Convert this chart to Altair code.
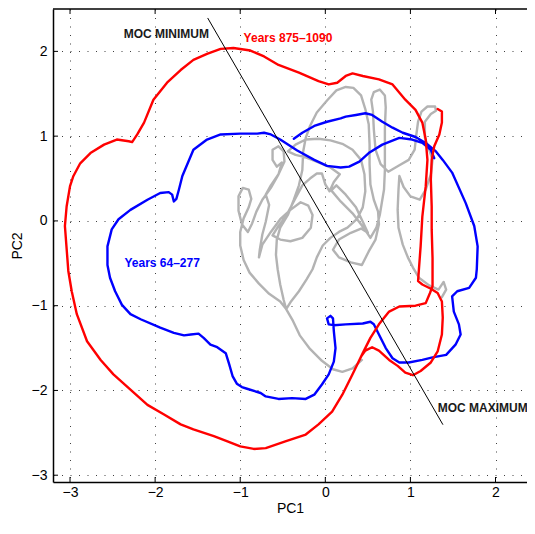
import altair as alt
import pandas as pd

# ---------------- data ----------------
red_pc1 = [1.32, 1.37, 1.37, 1.34, 1.28, 1.25, 1.24, 1.25, 1.25, 1.26,
           1.26, 1.23, 1.18, 1.06, 0.87, 0.75, 0.63, 0.53, 0.44, 0.32,
           0.20, 0.08, -0.08, -0.23, -0.47, -0.70, -0.84, -1.00, -1.15, -1.31,
           -1.55, -1.70, -1.90, -2.09, -2.29, -2.49, -2.64, -2.80, -2.92, -2.98,
           -3.02, -3.06, -3.04, -3.00, -2.96, -2.88, -2.76, -2.60, -2.45, -2.31,
           -2.27, -2.21, -2.13, -2.02, -1.86, -1.70, -1.55, -1.39, -1.23, -1.08,
           -0.88, -0.72, -0.55, -0.31, -0.08, 0.04, 0.14, 0.24, 0.32, 0.44,
           0.63, 0.79, 0.94, 1.06, 1.14, 1.18, 1.20, 1.18, 1.14, 1.12,
           1.10, 1.09, 1.14, 1.24, 1.32, 1.37, 1.38, 1.37, 1.32, 1.24,
           1.12, 1.03, 0.94, 0.85, 0.75, 0.63, 0.55, 0.47, 0.42]
red_pc2 = [1.32, 1.29, 1.16, 1.02, 0.88, 0.72, 0.49, 0.17, -0.10, -0.44,
           -0.77, -0.85, -0.97, -1.00, -1.01, -1.07, -1.22, -1.38, -1.56, -1.81,
           -2.05, -2.25, -2.40, -2.52, -2.60, -2.68, -2.69, -2.66, -2.60, -2.54,
           -2.46, -2.40, -2.28, -2.17, -1.99, -1.81, -1.64, -1.42, -1.10, -0.83,
           -0.59, -0.06, 0.17, 0.41, 0.53, 0.68, 0.80, 0.90, 0.96, 0.94,
           0.93, 1.02, 1.16, 1.43, 1.63, 1.78, 1.90, 1.97, 2.03, 2.04,
           2.01, 1.94, 1.84, 1.75, 1.65, 1.61, 1.63, 1.71, 1.74, 1.71,
           1.67, 1.61, 1.43, 1.31, 1.16, 0.96, 0.72, 0.41, 0.05, -0.30,
           -0.57, -0.71, -0.75, -0.80, -0.85, -0.95, -1.14, -1.34, -1.54, -1.67,
           -1.77, -1.82, -1.79, -1.71, -1.64, -1.53, -1.49, -1.53, -1.60]

blue_pc1 = [-0.37, -0.27, -0.13, 0.02, 0.18, 0.24, 0.36, 0.47, 0.55, 0.67,
            0.79, 0.91, 1.06, 1.18, 1.30, 1.38, 1.49, 1.65, 1.75, 1.79,
            1.78, 1.77, 1.69, 1.55, 1.49, 1.51, 1.57, 1.59, 1.53, 1.42,
            1.26, 1.14, 0.98, 0.87, 0.79, 0.71, 0.63, 0.57, 0.53, 0.44,
            0.24, 0.10, 0.04, 0.02, 0.06, 0.09, 0.10, 0.12, 0.10, 0.04,
            -0.04, -0.13, -0.23, -0.39, -0.55, -0.70, -0.76, -0.92, -0.98, -1.04,
            -1.09, -1.13, -1.17, -1.27, -1.35, -1.43, -1.49, -1.58, -1.66, -1.78,
            -1.94, -2.17, -2.29, -2.39, -2.47, -2.53, -2.56, -2.56, -2.51, -2.43,
            -2.29, -2.09, -1.94, -1.84, -1.80, -1.78, -1.75, -1.72, -1.68, -1.55,
            -1.39, -1.23, -1.00, -0.80, -0.72, -0.64, -0.53, -0.33, -0.13, 0.02,
            0.18, 0.28, 0.40, 0.51, 0.67, 0.87, 1.02, 1.14, 1.24, 1.28]
blue_pc2 = [0.97, 1.04, 1.12, 1.17, 1.21, 1.23, 1.25, 1.27, 1.25, 1.17,
            1.10, 1.04, 0.99, 0.92, 0.82, 0.72, 0.57, 0.21, -0.06, -0.30,
            -0.57, -0.67, -0.79, -0.83, -0.89, -1.07, -1.22, -1.34, -1.46, -1.58,
            -1.61, -1.64, -1.67, -1.67, -1.62, -1.50, -1.34, -1.22, -1.19, -1.21,
            -1.22, -1.23, -1.22, -1.15, -1.12, -1.15, -1.30, -1.50, -1.66, -1.81,
            -1.93, -2.05, -2.10, -2.09, -2.10, -2.07, -2.03, -1.98, -1.96, -1.92,
            -1.83, -1.69, -1.56, -1.49, -1.46, -1.38, -1.33, -1.34, -1.35, -1.32,
            -1.26, -1.16, -1.10, -0.99, -0.83, -0.67, -0.52, -0.30, -0.10, 0.02,
            0.13, 0.25, 0.33, 0.34, 0.31, 0.23, 0.26, 0.37, 0.53, 0.84,
            0.96, 1.02, 1.03, 1.03, 1.04, 1.02, 0.96, 0.83, 0.72, 0.65,
            0.63, 0.64, 0.70, 0.80, 0.90, 0.98, 0.96, 0.92, 0.84, 0.74]

gray_pc1 = [0.43, 0.32, 0.20, 0.09, -0.04, -0.18, -0.30, -0.38, -0.46,
            -0.53, -0.66, -0.78, -0.89, -0.96, -1.00, -1.00, -0.96, -0.90, -0.87,
            -0.90, -0.97, -1.02, -1.02, -0.98, -0.91,
            -0.86, -0.81, -0.74, -0.64, -0.55, -0.48, -0.49, -0.55, -0.62, -0.62,
            -0.57, -0.51,
            -0.55, -0.64, -0.70, -0.66, -0.70, -0.74, -0.77, -0.78, -0.74, -0.64,
            -0.53, -0.41, -0.29, -0.20, -0.15, -0.17, -0.27, -0.41, -0.53, -0.62,
            -0.55, -0.46, -0.36, -0.27, -0.18, -0.10, -0.04, 0.00, 0.05, 0.10,
            0.17, 0.06, -0.08, -0.23, -0.35,
            -0.44, -0.35, -0.23, -0.08, 0.06, 0.20, 0.32, 0.42, 0.46, 0.47,
            0.44, 0.37, 0.26, 0.16, 0.06, -0.03, -0.10, -0.15, -0.22, -0.31,
            -0.41, -0.46,
            -0.49, -0.53, -0.56, -0.58, -0.57, -0.53, -0.44, -0.37, -0.31, -0.27,
            -0.26, -0.23, -0.18, -0.10, 0.02, 0.13, 0.24, 0.33, 0.42, 0.47,
            0.51, 0.52, 0.52, 0.53, 0.57, 0.62,
            0.63, 0.59, 0.51, 0.43, 0.30, 0.16, 0.09, 0.16, 0.30, 0.42,
            0.50, 0.44, 0.36, 0.24, 0.13, 0.07, 0.18, 0.32, 0.45, 0.53,
            0.60, 0.64,
            0.66, 0.69, 0.70, 0.70, 0.70, 0.71, 0.70, 0.64, 0.57, 0.54, 0.56,
            0.57, 0.59, 0.65, 0.74, 0.86, 0.98, 1.05, 1.07, 1.09, 1.13,
            1.20, 1.29, 1.30, 1.24, 1.17, 1.17, 1.22, 1.26, 1.24, 1.18,
            1.11, 1.00, 0.92, 0.87,
            0.86, 0.85, 0.86, 0.91, 0.97, 1.03, 1.10, 1.22, 1.33, 1.39,
            1.42, 1.37]
gray_pc2 = [-1.64, -1.74, -1.78, -1.75, -1.65, -1.51, -1.35, -1.18, -1.04,
            -0.95, -0.86, -0.74, -0.61, -0.46, -0.29, -0.13, 0.03, 0.16, 0.26,
            0.37, 0.39, 0.29, 0.12, -0.04, -0.13,
            -0.03, 0.11, 0.25, 0.39, 0.55, 0.70, 0.82, 0.88, 0.84, 0.72,
            0.64, 0.69,
            0.55, 0.42, 0.31, 0.19, -0.01, -0.16, -0.34, -0.43, -0.28, -0.13,
            0.02, 0.13, 0.22, 0.18, 0.07, -0.08, -0.20, -0.24, -0.22, -0.17,
            -0.06, 0.06, 0.25, 0.42, 0.50, 0.56, 0.56, 0.43, 0.35, 0.46,
            0.55, 0.63, 0.69, 0.75, 0.78,
            0.82, 0.90, 0.96, 0.97, 0.95, 0.91, 0.84, 0.72, 0.55, 0.35,
            0.16, 0.02, -0.08, -0.13, -0.20, -0.29, -0.43, -0.57, -0.69, -0.83,
            -0.96, -1.04,
            -0.93, -0.75, -0.57, -0.40, -0.22, -0.08, 0.07, 0.25, 0.42, 0.60,
            0.82, 0.98, 1.12, 1.28, 1.42, 1.54, 1.58, 1.57, 1.48, 1.32,
            1.14, 0.90, 0.67, 0.43, 0.25, 0.11,
            -0.04, -0.22, -0.36, -0.52, -0.49, -0.43, -0.34, -0.22, -0.14, -0.09,
            -0.14, -0.01, 0.16, 0.31, 0.42, 0.36, 0.23, 0.09, -0.08, -0.20,
            -0.08, 0.07,
            0.19, 0.37, 0.60, 0.84, 1.10, 1.34, 1.48, 1.55, 1.52, 1.43, 1.29,
            1.08, 0.84, 0.67, 0.58, 0.65, 0.72, 0.84, 1.02, 1.17, 1.29,
            1.35, 1.35, 1.30, 1.26, 1.17, 0.98, 0.84, 0.72, 0.55, 0.37,
            0.25, 0.29, 0.40, 0.53,
            0.37, 0.13, -0.08, -0.28, -0.43, -0.55, -0.67, -0.76, -0.81, -0.72,
            -0.81, -0.90]

moc_pc1 = [-1.38, 1.38]
moc_pc2 = [2.39, -2.40]

label_text = ["MOC MINIMUM", "Years 875\u20131090", "Years 64\u2013277", "MOC MAXIMUM"]
label_pc1 = [-2.37, -0.96, -2.36, 1.32]
label_pc2 = [2.16, 2.11, -0.54, -2.25]
label_color = ["#1a1a1a", "#ff0000", "#0000ff", "#1a1a1a"]

tick_values = [-3, -2, -1, 0, 1, 2]

# ---------------- layout ----------------
XD = [-3.2, 2.37]
YD = [-3.08, 2.5]
W, H = 474, 473
FONT = "Liberation Sans"

xs = alt.Scale(domain=XD, nice=False, zero=False)
ys = alt.Scale(domain=YD, nice=False, zero=False)

common = dict(values=tick_values, format="d", grid=True,
              gridDash=[1, 7.5], gridColor="#000000", gridOpacity=0.75, gridWidth=1,
              ticks=False, domain=True, domainColor="#000000", domainWidth=1.5,
              labelFont=FONT, labelFontSize=14, labelColor="#000000",
              titleFont=FONT, titleFontSize=14, titleFontWeight="normal",
              titleColor="#000000")
xaxis = alt.Axis(title="PC1", labelPadding=3, titlePadding=2, **common)
yaxis = alt.Axis(title="PC2", labelPadding=6, titlePadding=7, **common)

X = lambda f: alt.X(f, scale=xs, axis=xaxis)
Y = lambda f: alt.Y(f, scale=ys, axis=yaxis)


def path_df(xv, yv):
    return pd.DataFrame({"pc1": xv, "pc2": yv, "i": list(range(len(xv)))})


def curve(df, color, width):
    return alt.Chart(df).mark_line(color=color, strokeWidth=width, strokeJoin="round",
                                   strokeCap="round", clip=True).encode(
        x=X("pc1:Q"), y=Y("pc2:Q"), order="i:Q")


gray = curve(path_df(gray_pc1, gray_pc2), "#b3b3b3", 2.4)
blue = curve(path_df(blue_pc1, blue_pc2), "#0000ff", 2.4)
red = curve(path_df(red_pc1, red_pc2), "#ff0000", 2.4)
moc = curve(path_df(moc_pc1, moc_pc2), "#000000", 1.0)

labels = alt.Chart(pd.DataFrame({"pc1": label_pc1, "pc2": label_pc2,
                                 "t": label_text, "c": label_color})).mark_text(
    align="left", baseline="alphabetic", font=FONT, fontSize=12, fontWeight="bold").encode(
    x=X("pc1:Q"), y=Y("pc2:Q"), text="t:N", color=alt.Color("c:N", scale=None))

tdf = pd.DataFrame({"t": tick_values})
tick_bottom = alt.Chart(tdf).mark_rule(color="#000000", strokeWidth=1).encode(
    x=X("t:Q"), y=alt.value(H), y2=alt.value(H - 5))
tick_top = alt.Chart(tdf).mark_rule(color="#000000", strokeWidth=1).encode(
    x=X("t:Q"), y=alt.value(0), y2=alt.value(5))
tick_left = alt.Chart(tdf).mark_rule(color="#000000", strokeWidth=1).encode(
    y=Y("t:Q"), x=alt.value(0), x2=alt.value(5))
top_border = alt.Chart(pd.DataFrame({"a": [0]})).mark_rule(color="#000000", strokeWidth=1.5).encode(
    x=alt.value(0), x2=alt.value(W), y=alt.value(0))

chart = alt.layer(gray, blue, red, moc, labels,
                  tick_bottom, tick_top, tick_left, top_border).properties(
    width=W, height=H,
    padding={"left": 45, "top": 1, "right": 0, "bottom": 37},
    autosize=alt.AutoSizeParams(type="none"),
    background="#ffffff",
).configure_view(stroke=None)

chart.save("out.html", embed_options={"renderer": "svg", "actions": False})
